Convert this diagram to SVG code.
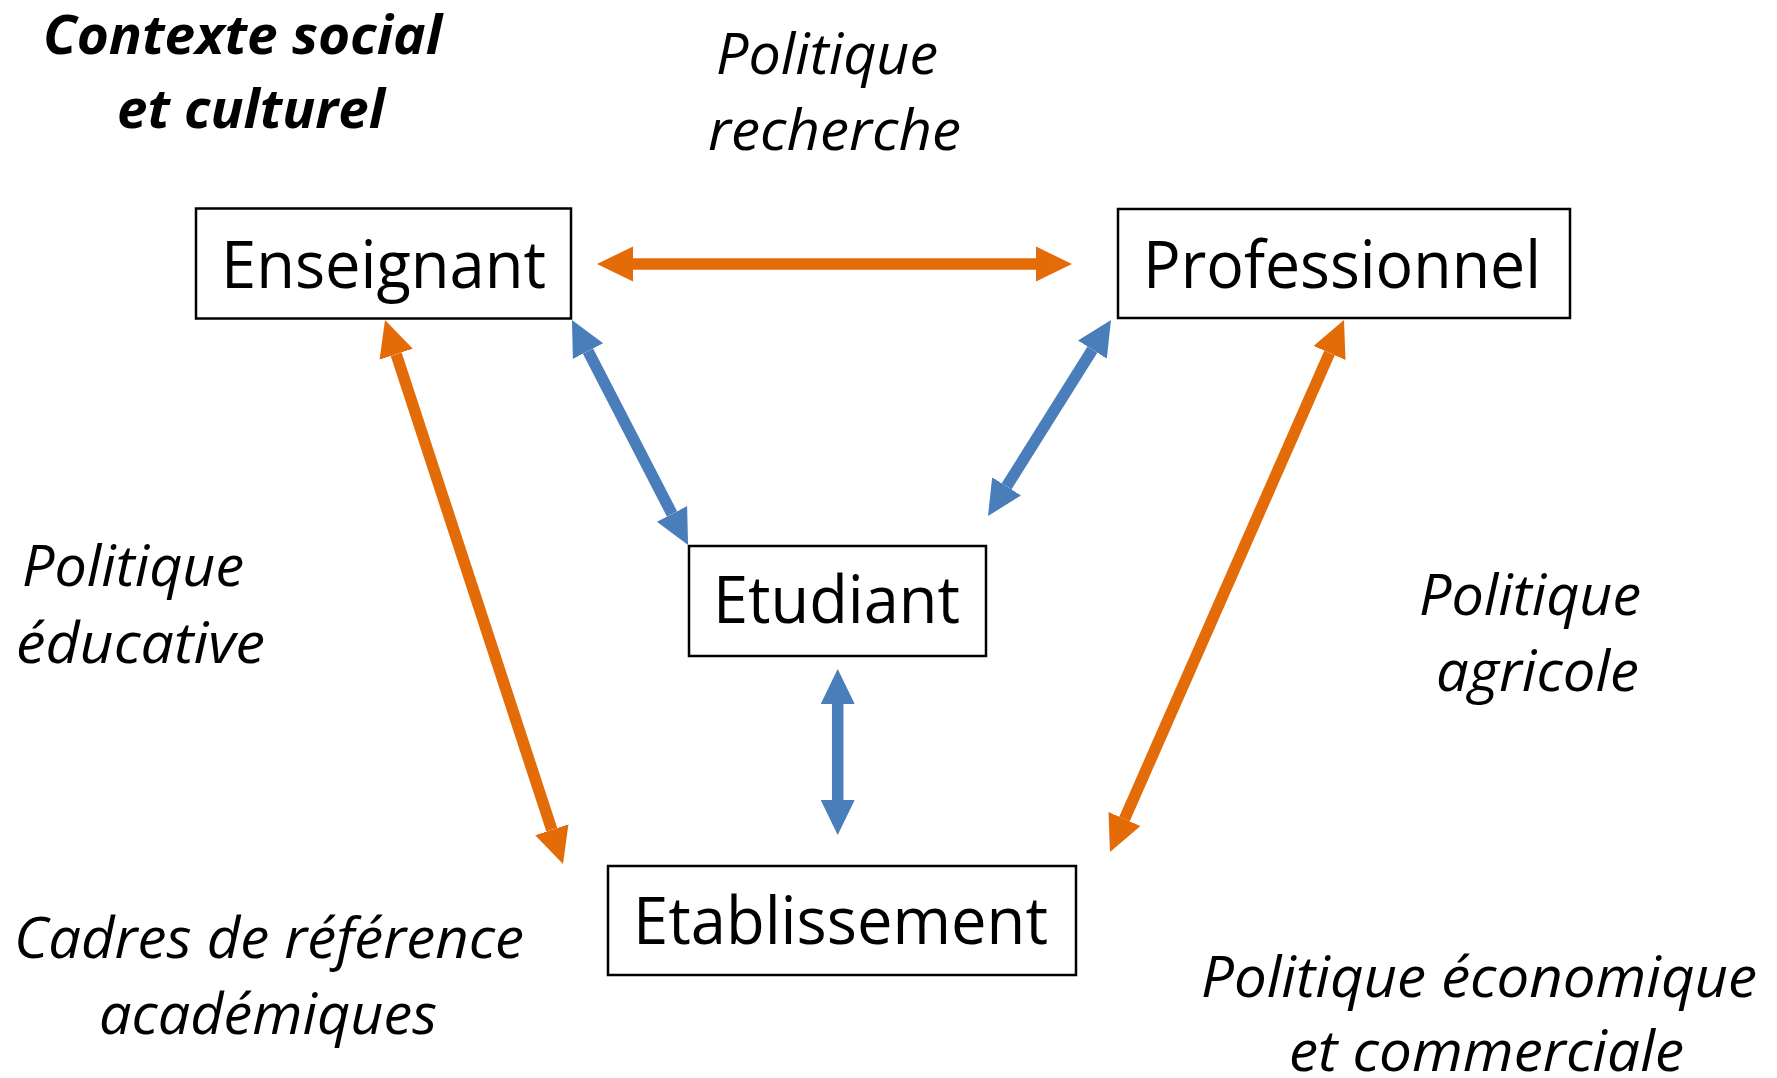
<svg xmlns="http://www.w3.org/2000/svg" width="1777" height="1078" viewBox="0 0 1777 1078">
<style>
.box{fill:#fff;stroke:#000;stroke-width:2.5}
.nt{font-family:"Open Sans","Liberation Sans",sans-serif;font-size:66px;fill:#000}
.lb{font-family:"Open Sans","Liberation Sans",sans-serif;font-size:56px;font-style:italic;fill:#000}
.bd{font-weight:bold;font-size:53px}
.or{stroke:#E36C09;stroke-width:11.5;fill:none}
.bl{stroke:#4A7EBB;stroke-width:11.5;fill:none}
</style>
<defs>
<marker id="ho" markerUnits="userSpaceOnUse" markerWidth="40" markerHeight="40" viewBox="0 -20 40 40" refX="0" refY="0" orient="auto-start-reverse">
<path d="M0,-17.5 L36,0 L0,17.5 Z" fill="#E36C09"/>
</marker>
<marker id="hb" markerUnits="userSpaceOnUse" markerWidth="40" markerHeight="40" viewBox="0 -20 40 40" refX="0" refY="0" orient="auto-start-reverse">
<path d="M0,-17 L35,0 L0,17 Z" fill="#4A7EBB"/>
</marker>
</defs>
<rect width="1777" height="1078" fill="#fff"/>
<g id="labels">
<text class="lb bd" x="43" y="54" textLength="399" lengthAdjust="spacingAndGlyphs">Contexte social</text>
<text class="lb bd" x="117" y="128" textLength="268" lengthAdjust="spacingAndGlyphs">et culturel</text>
<text class="lb" x="716" y="74" textLength="222" lengthAdjust="spacingAndGlyphs">Politique</text>
<text class="lb" x="708" y="150" textLength="253" lengthAdjust="spacingAndGlyphs">recherche</text>
<text class="lb" x="22" y="586" textLength="222" lengthAdjust="spacingAndGlyphs">Politique</text>
<text class="lb" x="16" y="663" textLength="249" lengthAdjust="spacingAndGlyphs">éducative</text>
<text class="lb" x="1419" y="615" textLength="222" lengthAdjust="spacingAndGlyphs">Politique</text>
<text class="lb" x="1436" y="691" textLength="203" lengthAdjust="spacingAndGlyphs">agricole</text>
<text class="lb" x="14" y="958" textLength="510" lengthAdjust="spacingAndGlyphs">Cadres de référence</text>
<text class="lb" x="99" y="1034" textLength="338" lengthAdjust="spacingAndGlyphs">académiques</text>
<text class="lb" x="1201" y="997" textLength="556" lengthAdjust="spacingAndGlyphs">Politique économique</text>
<text class="lb" x="1289" y="1071" textLength="395" lengthAdjust="spacingAndGlyphs">et commerciale</text>
</g>
<g id="connectors">
<line class="or" x1="633" y1="264" x2="1036" y2="264" marker-start="url(#ho)" marker-end="url(#ho)"/>
<line class="or" x1="396.2" y1="354.2" x2="551.8" y2="829.8" marker-start="url(#ho)" marker-end="url(#ho)"/>
<line class="or" x1="1329.5" y1="353" x2="1124.5" y2="819" marker-start="url(#ho)" marker-end="url(#ho)"/>
<line class="bl" x1="588" y1="351.1" x2="672" y2="513.9" marker-start="url(#hb)" marker-end="url(#hb)"/>
<line class="bl" x1="1092.4" y1="349.6" x2="1006.6" y2="486.4" marker-start="url(#hb)" marker-end="url(#hb)"/>
<line class="bl" x1="837.7" y1="704" x2="837.7" y2="800" marker-start="url(#hb)" marker-end="url(#hb)"/>
</g>
<g id="enseignant">
<rect class="box" x="196" y="208.5" width="375" height="110"/>
<text class="nt" x="221" y="288" textLength="325" lengthAdjust="spacingAndGlyphs">Enseignant</text>
</g>
<g id="professionnel">
<rect class="box" x="1118" y="209" width="452" height="109"/>
<text class="nt" x="1143" y="288" textLength="398" lengthAdjust="spacingAndGlyphs">Professionnel</text>
</g>
<g id="etudiant">
<rect class="box" x="689" y="546" width="297" height="110"/>
<text class="nt" x="713" y="623" textLength="247" lengthAdjust="spacingAndGlyphs">Etudiant</text>
</g>
<g id="etablissement">
<rect class="box" x="608" y="866" width="468" height="109"/>
<text class="nt" x="633" y="944" textLength="415" lengthAdjust="spacingAndGlyphs">Etablissement</text>
</g>
</svg>
